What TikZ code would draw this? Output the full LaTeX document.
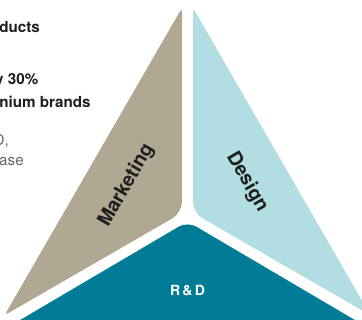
\documentclass[tikz,border=0pt]{standalone}
\usepackage{fontspec}
\setmainfont{TeX Gyre Heros}
\newfontfamily\spaced[LetterSpace=16]{TeX Gyre Heros}
\definecolor{beige}{HTML}{B1A893}
\definecolor{lblue}{HTML}{B1DDE3}
\definecolor{teal}{HTML}{007C96}
\definecolor{darktxt}{HTML}{1E1E1E}
\definecolor{graytxt}{HTML}{666666}
\begin{document}
\begin{tikzpicture}[x=1pt,y=-1pt,
  boldtxt/.style={font=\fontsize{15.2}{18}\selectfont\bfseries, text=darktxt, inner sep=0pt},
  regtxt/.style={font=\fontsize{15.2}{18}\selectfont, text=graytxt, inner sep=0pt},
  lbl/.style={font=\fontsize{19.5}{21}\selectfont\bfseries, text=darktxt, inner sep=0pt}]
\useasboundingbox (0,0) rectangle (362,320);
\clip (0,0) rectangle (362,320);
% pieces
\coordinate (M1) at (182,7.8);
\coordinate (M2) at (182,212.8);
\coordinate (M3) at (4.5,315.3);
\coordinate (D1) at (193,7.8);
\coordinate (D2) at (193,212.8);
\coordinate (D3) at (370.5,315.3);
\coordinate (R1) at (187.5,221.5);
\coordinate (R2) at (12,324.8);
\coordinate (R3) at (363,324.8);
\fill[beige, rounded corners=4pt] (M3) -- (M1) [rounded corners=11pt] -- (M2) [rounded corners=4pt] -- cycle;
\fill[lblue, rounded corners=4pt] (D3) -- (D1) [rounded corners=11pt] -- (D2) [rounded corners=4pt] -- cycle;
\fill[teal, rounded corners=4pt] (R3) [rounded corners=10pt] -- (R1) [rounded corners=4pt] -- (R2) -- cycle;
% labels
\node[lbl, rotate=60] (mk) at (126.5,185.5) {Marketing};
\node[lbl, rotate=-60] (ds) at (247,182) {Design};
\node[font=\fontsize{14}{15}\selectfont\bfseries\spaced, text=white, inner sep=0pt, anchor=base] (rd) at (187.5,296) {R\&D};
% left text fragments
\node[boldtxt, anchor=base west] (t1) at (-0.8,32.3) {ducts};
\node[boldtxt, anchor=base west] (t2) at (-5,85) {y 30\%};
\node[boldtxt, anchor=base west] (t3) at (-0.8,107.7) {nium brands};
\node[regtxt, anchor=base west] (t4) at (-6.5,146) {D,};
\node[regtxt, anchor=base west] (t5) at (-1,166) {ase};
\end{tikzpicture}
\end{document}
